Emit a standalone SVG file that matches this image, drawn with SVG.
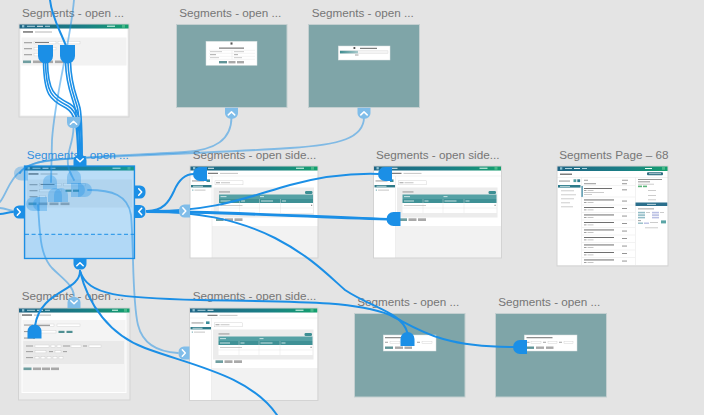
<svg xmlns="http://www.w3.org/2000/svg" width="704" height="415" viewBox="0 0 704 415">
<defs>
  <linearGradient id="hdr" x1="0" y1="0" x2="1" y2="0">
    <stop offset="0" stop-color="#1f6585"/>
    <stop offset="0.6" stop-color="#1a7f86"/>
    <stop offset="1" stop-color="#13a06d"/>
  </linearGradient>
  <linearGradient id="prog" x1="0" y1="0" x2="1" y2="0">
    <stop offset="0" stop-color="#3e8c90"/>
    <stop offset="1" stop-color="#a9cacc"/>
  </linearGradient>
  <style>
    .lbl{font-family:"Liberation Sans",Arial,Helvetica,sans-serif;font-size:11.7px;fill:#767676}
    .sel{fill:#3390df}
    .ab{fill:none;stroke:#d3d3d3;stroke-width:1}
    .teal{fill:#7fa5a8;stroke:#c4cfd0;stroke-width:1}
    .dlg{fill:#fff;stroke:#d8e0e0;stroke-width:.5}
    .w{fill:none;stroke:#1b8fe6;stroke-width:2;stroke-linecap:round}
    .wb{fill:none;stroke:#1b8fe6;stroke-width:1.6;stroke-linecap:round}
    .wl{fill:none;stroke:#1b8fe6;stroke-opacity:.5;stroke-width:1.8;stroke-linecap:round}
    .hd{fill:#1b8fe6}
    .hl{fill:#80bde9}
    .chev{fill:none;stroke:#fff;stroke-width:1.5;stroke-linecap:round;stroke-linejoin:round}
    .mk{fill:#1b8fe6}
    .mkl{fill:#1b8fe6;fill-opacity:.32}
    .tx{fill:#8a8a8a}
    .tl{fill:#b7b7b7}
    .td{fill:#5f5f5f}
    .in{fill:#fff;stroke:#cccccc;stroke-width:.4}
    .bt{fill:#a9a9a9}
    .bp{fill:#6f9ea0}
    .gl{stroke:#e0e0e0;stroke-width:.4}
  </style>

  <!-- interaction handle tab, attached at y=0, pointing down -->
  <path id="tab" d="M-6.5,0 H6.5 V5.5 A5.5,5.5 0 0 1 1,11 H-1 A5.5,5.5 0 0 1 -6.5,5.5 Z"/>
  <path id="cu" d="M-3.2,7.2 L0,4.2 L3.2,7.2"/>
  <path id="cv" d="M-3.2,4.2 L0,7.2 L3.2,4.2"/>
  <!-- link target marker, round side up -->
  <path id="mkT" d="M-7,0 A7,7 0 0 1 7,0 V7 H-7 Z"/>

  <!-- form page thumbnail, 110 x 93 -->
  <g id="fp">
    <rect width="110" height="93" fill="#ededed"/>
    <rect x="1.5" y="4.5" width="107" height="87" fill="#fff"/>
    <rect width="110" height="4.5" fill="url(#hdr)"/>
    <rect x="3" y="1.1" width="2.3" height="2.3" fill="#8fc3d3"/>
    <rect x="8" y="1.8" width="8" height=".9" fill="#bfe0e8"/>
    <rect x="18" y="1.8" width="6" height=".9" fill="#fff"/>
    <rect x="26" y="1.8" width="5" height=".9" fill="#bfe0e8"/>
    <rect x="88" y="1.7" width="8" height="1" fill="#e8fff3"/>
    <rect x="103" y=".9" width="3" height="2.8" fill="#49b98a"/>
    <rect x="4" y="7.3" width="10" height="1.3" class="td"/>
    <rect x="16" y="7.5" width="17" height="1" class="tl"/>
    <rect x="2.5" y="13.5" width="105" height="28" fill="#f2f2f2"/>
    <rect x="5" y="18.3" width="8" height=".9" class="tx"/>
    <rect x="5" y="24.3" width="8" height=".9" class="tx"/>
    <rect x="5" y="30.3" width="8" height=".9" class="tx"/>
    <rect x="15" y="17.3" width="22" height="2.6" class="in"/>
    <rect x="16" y="18.2" width="14" height=".8" class="td"/>
    <rect x="39" y="17.3" width="22" height="2.6" class="in"/>
    <rect x="15" y="23.3" width="22" height="2.6" class="in"/>
    <rect x="41" y="23.6" width="6" height="2.2" fill="#4f8f92"/>
    <rect x="48.5" y="23.6" width="6" height="2.2" fill="#4f8f92"/>
    <rect x="15" y="29.3" width="6" height="2.6" class="in"/>
    <rect x="4" y="36.5" width="8" height="2.6" class="bp"/>
    <rect x="14" y="36.5" width="9" height="2.6" class="bt"/>
    <rect x="25" y="36.5" width="9" height="2.6" class="bt"/>
    <rect x="36" y="36.5" width="9" height="2.6" class="bt"/>
  </g>

  <!-- list page with side panel thumbnail, 128 x 92 -->
  <g id="sp">
    <rect width="128" height="92" fill="#f2f2f2"/>
    <rect y="4.5" width="128" height="55.5" fill="#fff"/>
    <rect y="4.5" width="22" height="87.5" fill="#fff"/>
    <line x1="22" y1="10" x2="22" y2="92" stroke="#e2e2e2" stroke-width=".5"/>
    <rect width="128" height="4.5" fill="url(#hdr)"/>
    <rect x="3" y="1.1" width="2.3" height="2.3" fill="#8fc3d3"/>
    <rect x="8" y="1.8" width="8" height=".9" fill="#bfe0e8"/>
    <rect x="18" y="1.8" width="6" height=".9" fill="#fff"/>
    <rect x="106" y="1.7" width="8" height="1" fill="#e8fff3"/>
    <rect x="121" y=".9" width="3" height="2.8" fill="#49b98a"/>
    <rect x="18" y="6.8" width="10" height="1" class="td"/>
    <rect x="30" y="6.9" width="18" height=".8" class="tl"/>
    <line x1="0" y1="10" x2="128" y2="10" stroke="#e6e6e6" stroke-width=".5"/>
    <rect x="2" y="14.5" width="12" height=".9" class="tx"/>
    <rect x="16.5" y="13.4" width="3.5" height="2.6" fill="#3e8d9a"/>
    <rect x="1" y="19" width="20.5" height="2.4" fill="#2f7a88"/>
    <rect x="3" y="19.8" width="10" height=".8" fill="#e6f2f2"/>
    <rect x="2.3" y="23.6" width="1" height="1" fill="#3e8d9a"/>
    <rect x="4.5" y="23.7" width="11" height=".8" class="tl"/>
    <rect x="25" y="14.8" width="28" height="4" class="in"/>
    <rect x="26" y="16.4" width="4" height=".8" class="tx"/>
    <rect x="31" y="16.4" width="9" height=".8" class="tl"/>
    <rect x="23.5" y="21.5" width="100.5" height="30" fill="#ececec"/>
    <rect x="29" y="25.5" width="11" height=".9" class="tx"/>
    <rect x="115" y="25" width="7.5" height="3" rx="1.2" fill="#3d8f94"/>
    <rect x="29" y="28.5" width="94" height="4.5" fill="#55a1a5"/>
    <rect x="29" y="33" width="94" height="4" fill="#3f9196"/>
    <rect x="30.5" y="30.3" width="6" height=".8" fill="#eaf5f5"/>
    <rect x="70" y="30.3" width="4" height=".8" fill="#eaf5f5"/>
    <rect x="30.5" y="34.6" width="10" height=".8" fill="#eaf5f5"/>
    <rect x="51" y="34.6" width="4" height=".8" fill="#eaf5f5"/>
    <rect x="71" y="34.6" width="12" height=".8" fill="#eaf5f5"/>
    <rect x="92" y="34.6" width="4" height=".8" fill="#eaf5f5"/>
    <rect x="29" y="37" width="94" height="10" fill="#fff"/>
    <line x1="29" y1="42" x2="123" y2="42" class="gl"/>
    <line x1="49.5" y1="33" x2="49.5" y2="47" class="gl"/>
    <line x1="69.5" y1="33" x2="69.5" y2="47" class="gl"/>
    <line x1="90.5" y1="33" x2="90.5" y2="47" class="gl"/>
    <rect x="30.5" y="39" width="22" height=".7" class="tl"/>
    <rect x="121" y="38.7" width="1.2" height="1.2" class="tx"/>
    <rect x="26" y="52.3" width="7.5" height="2.7" class="bp"/>
    <rect x="35" y="52.3" width="8" height="2.7" class="bt"/>
    <rect x="44.5" y="52.3" width="8" height="2.7" class="bt"/>
  </g>
</defs>

<!-- canvas -->
<rect width="704" height="415" fill="#e4e4e4"/>

<!-- artboards -->
<g id="ab-form-1">
  <use href="#fp" x="19" y="24"/>
  <rect x="19" y="24" width="110" height="93" class="ab"/>
  <text x="22" y="16.6" class="lbl">Segments - open ...</text>
</g>

<g id="ab-delete-dialog">
  <rect x="176.5" y="24.5" width="110.5" height="83" class="teal"/>
  <rect x="206" y="41.3" width="51" height="24" class="dlg"/>
  <rect x="230.5" y="42.4" width="2" height="2.2" fill="#555"/>
  <rect x="219" y="47.6" width="25" height="1" class="td"/>
  <line x1="209" y1="50.3" x2="255" y2="50.3" class="gl"/>
  <line x1="209" y1="53.3" x2="255" y2="53.3" class="gl"/>
  <line x1="209" y1="56.3" x2="255" y2="56.3" class="gl"/>
  <line x1="209" y1="59.3" x2="255" y2="59.3" class="gl"/>
  <line x1="232" y1="50.3" x2="232" y2="59.3" class="gl"/>
  <rect x="210" y="51.4" width="12" height=".7" class="tl"/>
  <rect x="234" y="51.4" width="10" height=".7" class="tl"/>
  <rect x="210" y="54.4" width="6" height=".7" class="tx"/>
  <rect x="234" y="54.4" width="4" height=".7" class="tx"/>
  <rect x="210" y="57.4" width="9" height=".7" class="tl"/>
  <rect x="234" y="57.4" width="8" height=".7" class="tl"/>
  <rect x="219" y="61" width="8" height="2.4" fill="#5f9497"/>
  <rect x="228.5" y="61" width="7" height="2.4" class="bt"/>
  <rect x="237" y="61" width="7" height="2.4" class="bt"/>
  <text x="179.3" y="16.6" class="lbl">Segments - open ...</text>
</g>

<g id="ab-export-dialog">
  <rect x="308.5" y="24.5" width="111" height="83" class="teal"/>
  <rect x="338.3" y="46" width="51.7" height="14" class="dlg"/>
  <rect x="353.5" y="47" width="1.8" height="2" fill="#555"/>
  <rect x="360" y="47.8" width="17" height="1" class="td"/>
  <rect x="340" y="50.8" width="48" height="2.6" fill="#f4f4f4" stroke="#d6d6d6" stroke-width=".4"/>
  <rect x="340" y="50.8" width="18" height="2.6" fill="url(#prog)"/>
  <rect x="355" y="54.6" width="3.5" height=".8" class="tx"/>
  <text x="311.7" y="16.6" class="lbl">Segments - open ...</text>
</g>

<g id="ab-form-selected">
  <use href="#fp" x="24.5" y="166"/>
  <rect x="24.5" y="166" width="110" height="92.5" fill="#1b8fe6" fill-opacity=".3"/>
  <rect x="24.5" y="234.5" width="110" height="24" fill="#1b8fe6" fill-opacity=".05"/>
  <line x1="25" y1="234.3" x2="134" y2="234.3" stroke="#1b8fe6" stroke-width="1" stroke-dasharray="4 2.6"/>
  <rect x="24.5" y="166" width="110" height="92.5" fill="none" stroke="#1b8fe6" stroke-width="1.3"/>
  <text x="26.7" y="158.8" class="lbl sel">Segments - open ...</text>
</g>

<g id="ab-side-1">
  <use href="#sp" x="190" y="166"/>
  <rect x="190" y="166" width="128" height="92" class="ab"/>
  <text x="192.7" y="159.2" class="lbl">Segments - open side...</text>
</g>

<g id="ab-side-2">
  <use href="#sp" x="373.5" y="166"/>
  <rect x="373.5" y="166" width="128" height="92" class="ab"/>
  <text x="376" y="159.2" class="lbl">Segments - open side...</text>
</g>

<g id="ab-segments-page">
  <rect x="557" y="166" width="111" height="100" fill="#efefef"/>
  <rect x="557" y="171" width="111" height="94" fill="#fff"/>
  <rect x="557" y="166" width="111" height="5" fill="url(#hdr)"/>
  <rect x="560" y="167.3" width="2.3" height="2.3" fill="#8fc3d3"/>
  <rect x="565" y="168" width="7" height=".9" fill="#bfe0e8"/>
  <rect x="574" y="168" width="6" height=".9" fill="#fff"/>
  <rect x="582" y="168" width="5" height=".9" fill="#bfe0e8"/>
  <rect x="645" y="168" width="7" height="1" fill="#e8fff3"/>
  <rect x="662" y="167" width="3" height="2.8" fill="#49b98a"/>
  <rect x="560" y="173.6" width="12" height="1.2" class="td"/>
  <rect x="647" y="172.3" width="16" height="3" rx="1" fill="#2e6e80"/>
  <rect x="649" y="173.4" width="12" height=".7" fill="#dbeef2"/>
  <line x1="557" y1="177.5" x2="668" y2="177.5" stroke="#e4e4e4" stroke-width=".5"/>
  <line x1="581.5" y1="177.5" x2="581.5" y2="265" stroke="#e4e4e4" stroke-width=".5"/>
  <line x1="635.5" y1="177.5" x2="635.5" y2="265" stroke="#e4e4e4" stroke-width=".5"/>
  <!-- sidebar -->
  <rect x="559" y="180.6" width="11" height=".9" class="tx"/>
  <rect x="573.5" y="179.3" width="2.8" height="2.8" fill="#4f9da0"/>
  <rect x="577.3" y="179.3" width="2.8" height="2.8" fill="#2e7a8e"/>
  <rect x="558" y="185" width="22.5" height="2.6" fill="#2b7a8a"/>
  <rect x="560" y="185.9" width="10" height=".8" fill="#e6f2f2"/>
  <rect x="561" y="190.5" width="13" height=".7" class="tl"/>
  <rect x="561" y="194.5" width="15" height=".7" class="tl"/>
  <rect x="561" y="198.5" width="13" height=".7" class="tl"/>
  <rect x="561" y="202.5" width="9" height=".7" class="tl"/>
  <rect x="561" y="206.5" width="12" height=".7" class="tl"/>
  <!-- list -->
  <rect x="584" y="179.8" width="4" height=".8" class="tx"/>
  <rect x="622" y="179.8" width="6" height=".8" class="tx"/>
  <rect x="581.5" y="186" width="1.2" height="11" fill="#2d7f9a"/>
  <g class="rows">
    <rect x="584" y="183.3" width="12" height=".9" class="tx"/>
    <rect x="622" y="183.3" width="5" height=".9" class="tx"/>
    <line x1="582" y1="185.5" x2="635" y2="185.5" class="gl"/>
    <rect x="584" y="188" width="28" height=".9" class="td"/>
    <rect x="584" y="190.2" width="2.5" height=".8" class="tx"/>
    <rect x="587.5" y="190.2" width="6" height=".8" class="tl"/>
    <rect x="584" y="192.2" width="20" height=".7" class="tl"/>
    <rect x="584" y="194.2" width="8" height=".7" class="tl"/>
    <rect x="622" y="189.4" width="5" height=".9" class="tx"/>
    <line x1="582" y1="197" x2="635" y2="197" class="gl"/>
  </g>
  <g class="rows">
    <rect x="584" y="199.5" width="30" height=".9" class="td"/>
    <rect x="584" y="202" width="2.5" height=".8" class="tx"/>
    <rect x="587.5" y="202" width="6" height=".8" class="tl"/>
    <rect x="622" y="200.6" width="5" height=".9" class="tx"/>
    <line x1="582" y1="205" x2="635" y2="205" class="gl"/>
    <rect x="584" y="207" width="30" height=".9" class="td"/>
    <rect x="584" y="209.5" width="2.5" height=".8" class="tx"/>
    <rect x="587.5" y="209.5" width="6" height=".8" class="tl"/>
    <rect x="622" y="208.1" width="5" height=".9" class="tx"/>
    <line x1="582" y1="212.5" x2="635" y2="212.5" class="gl"/>
    <rect x="584" y="214.5" width="30" height=".9" class="td"/>
    <rect x="584" y="217" width="2.5" height=".8" class="tx"/>
    <rect x="587.5" y="217" width="6" height=".8" class="tl"/>
    <rect x="622" y="215.6" width="5" height=".9" class="tx"/>
    <line x1="582" y1="220" x2="635" y2="220" class="gl"/>
    <rect x="584" y="222" width="30" height=".9" class="td"/>
    <rect x="584" y="224.5" width="2.5" height=".8" class="tx"/>
    <rect x="587.5" y="224.5" width="6" height=".8" class="tl"/>
    <rect x="622" y="223.1" width="5" height=".9" class="tx"/>
    <line x1="582" y1="227.5" x2="635" y2="227.5" class="gl"/>
    <rect x="584" y="229.5" width="30" height=".9" class="td"/>
    <rect x="584" y="232" width="2.5" height=".8" class="tx"/>
    <rect x="587.5" y="232" width="6" height=".8" class="tl"/>
    <rect x="622" y="230.6" width="5" height=".9" class="tx"/>
    <line x1="582" y1="235" x2="635" y2="235" class="gl"/>
    <rect x="584" y="237" width="30" height=".9" class="td"/>
    <rect x="584" y="239.5" width="2.5" height=".8" class="tx"/>
    <rect x="587.5" y="239.5" width="6" height=".8" class="tl"/>
    <rect x="622" y="238.1" width="5" height=".9" class="tx"/>
    <line x1="582" y1="242.5" x2="635" y2="242.5" class="gl"/>
    <rect x="584" y="244.5" width="30" height=".9" class="td"/>
    <rect x="584" y="247" width="2.5" height=".8" class="tx"/>
    <rect x="587.5" y="247" width="6" height=".8" class="tl"/>
    <rect x="622" y="245.6" width="5" height=".9" class="tx"/>
    <line x1="582" y1="250" x2="635" y2="250" class="gl"/>
    <rect x="584" y="252" width="30" height=".9" class="td"/>
    <rect x="584" y="254.5" width="2.5" height=".8" class="tx"/>
    <rect x="587.5" y="254.5" width="6" height=".8" class="tl"/>
    <rect x="622" y="253.1" width="5" height=".9" class="tx"/>
    <line x1="582" y1="257.5" x2="635" y2="257.5" class="gl"/>
    <rect x="584" y="259.5" width="30" height=".9" class="td"/>
    <rect x="584" y="262" width="2.5" height=".8" class="tx"/>
    <rect x="587.5" y="262" width="6" height=".8" class="tl"/>
    <rect x="622" y="260.6" width="5" height=".9" class="tx"/>
  </g>
  <!-- detail panel -->
  <rect x="638" y="179" width="24" height=".9" class="tx"/>
  <rect x="638" y="181.4" width="12" height=".9" class="tx"/>
  <rect x="638" y="183.8" width="16" height=".7" class="tl"/>
  <rect x="638" y="185.6" width="4" height="1.6" fill="#5bb47a"/>
  <rect x="643" y="185.6" width="4" height="1.6" fill="#5bb47a"/>
  <rect x="648" y="190" width="8" height=".7" class="tl"/>
  <rect x="648" y="195" width="8" height=".7" class="tl"/>
  <rect x="648" y="199.5" width="8" height=".7" class="tl"/>
  <rect x="635.5" y="202.5" width="32" height="3.5" fill="#2b6f8c"/>
  <rect x="647" y="203.9" width="9" height=".8" fill="#e1eef3"/>
  <rect x="638" y="208.5" width="16" height=".8" class="tx"/>
  <rect x="638" y="211.8" width="7" height="1.6" fill="#93bdc7"/>
  <rect x="652" y="211.8" width="7" height="1.6" fill="#b9bfe3"/>
  <rect x="638" y="214.3" width="7" height="1.6" fill="#93bdc7"/>
  <rect x="652" y="214.3" width="7" height="1.6" fill="#b9bfe3"/>
  <rect x="638" y="216.8" width="7" height="1.6" fill="#93bdc7"/>
  <rect x="652" y="216.8" width="7" height="1.6" fill="#b9bfe3"/>
  <rect x="646" y="212" width="4" height=".7" class="tl"/>
  <rect x="660" y="212" width="4" height=".7" class="tl"/>
  <rect x="638" y="220.3" width="3" height=".8" class="tx"/>
  <rect x="638" y="222.5" width="5" height="1.4" fill="#93bdc7"/>
  <rect x="644" y="222.5" width="5" height="1.4" fill="#b9bfe3"/>
  <rect x="650" y="222.3" width="8" height=".7" class="tl"/>
  <rect x="661" y="220.4" width="5" height="3" fill="#5aa5a6"/>
  <rect x="645" y="227.5" width="13" height=".7" class="tl"/>
  <rect x="557" y="166" width="111" height="100" class="ab"/>
  <text x="559.3" y="158.8" class="lbl">Segments Page – 68</text>
</g>

<g id="ab-form-2">
  <rect x="18.5" y="308" width="111.5" height="92" fill="#ededed"/>
  <rect x="21.5" y="313" width="105" height="80" fill="#fff"/>
  <rect x="18.5" y="308" width="111.5" height="4.5" fill="url(#hdr)"/>
  <rect x="22" y="309.2" width="2.3" height="2.3" fill="#8fc3d3"/>
  <rect x="27" y="309.8" width="8" height=".9" fill="#bfe0e8"/>
  <rect x="37" y="309.8" width="6" height=".9" fill="#fff"/>
  <rect x="45" y="309.8" width="5" height=".9" fill="#bfe0e8"/>
  <rect x="112" y="309.7" width="6" height="1" fill="#e8fff3"/>
  <rect x="124" y="308.9" width="3" height="2.8" fill="#49b98a"/>
  <rect x="22" y="314.4" width="10" height="1.3" class="td"/>
  <rect x="34" y="314.6" width="17" height="1" class="tl"/>
  <rect x="22.5" y="320" width="103" height="72" fill="#f4f4f4"/>
  <rect x="24" y="324.6" width="9" height=".9" class="tx"/>
  <rect x="35" y="324" width="19" height="2.4" class="in"/>
  <rect x="36" y="324.8" width="14" height=".8" class="td"/>
  <rect x="57" y="324" width="23" height="2.4" class="in"/>
  <rect x="24" y="331.2" width="9" height=".9" class="tx"/>
  <rect x="35" y="330.6" width="21" height="2.4" class="in"/>
  <rect x="58.5" y="330.8" width="6" height="2.2" fill="#4f8f92"/>
  <rect x="66.5" y="330.8" width="6" height="2.2" fill="#4f8f92"/>
  <rect x="24" y="337.6" width="9" height=".9" class="tx"/>
  <rect x="33" y="337.3" width="2" height="1.5" class="tx"/>
  <rect x="23.3" y="341" width="100.7" height="23" fill="#e9e9e9"/>
  <rect x="26" y="345.6" width="7" height=".8" class="tx"/>
  <rect x="35" y="345" width="14" height="2.2" class="in"/>
  <rect x="51" y="345" width="4" height="2.2" class="in"/>
  <rect x="57" y="345" width="4" height="2.2" class="in"/>
  <rect x="63" y="345.6" width="7" height=".8" class="tx"/>
  <rect x="71" y="345" width="10" height="2.2" class="in"/>
  <rect x="83" y="345.6" width="4" height=".8" class="tx"/>
  <rect x="89" y="345" width="12" height="2.2" class="in"/>
  <rect x="26" y="351.3" width="7" height=".8" class="tx"/>
  <rect x="35" y="350.7" width="11" height="2.2" class="in"/>
  <rect x="49" y="351.3" width="4" height=".8" class="tx"/>
  <rect x="55" y="350.7" width="6" height="2.2" class="in"/>
  <rect x="63" y="351.3" width="4" height=".8" class="tx"/>
  <rect x="26" y="357.3" width="7" height=".8" class="tx"/>
  <rect x="35" y="356.7" width="4" height="2.2" class="in"/>
  <rect x="41" y="356.7" width="4" height="2.2" class="in"/>
  <rect x="47" y="356.7" width="4" height="2.2" class="in"/>
  <rect x="53" y="356.7" width="4" height="2.2" class="in"/>
  <rect x="59" y="356.7" width="4" height="2.2" class="in"/>
  <rect x="23.5" y="367.5" width="8" height="2.6" class="bp"/>
  <rect x="33" y="367.5" width="8" height="2.6" class="bt"/>
  <rect x="42" y="367.5" width="8" height="2.6" class="bt"/>
  <rect x="51" y="367.5" width="8" height="2.6" class="bt"/>
  <rect x="18.5" y="308" width="111.5" height="92" class="ab"/>
  <text x="21.7" y="299.8" class="lbl">Segments - open ...</text>
</g>

<g id="ab-side-3">
  <use href="#sp" x="189.5" y="308"/>
  <rect x="189.5" y="308" width="128.5" height="92.5" class="ab"/>
  <text x="192.7" y="299.6" class="lbl">Segments - open side...</text>
</g>

<g id="ab-dialog-3">
  <rect x="354.5" y="313.5" width="110.5" height="83.5" class="teal"/>
  <rect x="383.3" y="335" width="52.7" height="16" class="dlg"/>
  <rect x="385" y="337.3" width="22" height=".9" class="td"/>
  <rect x="385" y="341.8" width="3" height=".8" class="tx"/>
  <rect x="390" y="341.2" width="10" height="2.1" class="in"/>
  <rect x="402" y="341.8" width="4" height=".8" class="tx"/>
  <rect x="408" y="341.2" width="6" height="2.1" class="in"/>
  <rect x="417" y="341.8" width="3" height=".8" class="tx"/>
  <rect x="422" y="341.2" width="10" height="2.1" class="in"/>
  <rect x="385" y="346.5" width="8" height="2.4" fill="#5f9497"/>
  <rect x="395" y="346.5" width="8" height="2.4" class="bt"/>
  <rect x="404.5" y="346.5" width="7.5" height="2.4" class="bt"/>
  <text x="357.3" y="305.6" class="lbl">Segments - open ...</text>
</g>

<g id="ab-dialog-4">
  <rect x="495.5" y="313.5" width="111" height="83.5" class="teal"/>
  <rect x="524.3" y="335" width="52.7" height="16" class="dlg"/>
  <rect x="526.5" y="337.3" width="26" height=".9" class="td"/>
  <rect x="526.5" y="341.8" width="3" height=".8" class="tx"/>
  <rect x="531" y="341.2" width="10" height="2.1" class="in"/>
  <rect x="543" y="341.8" width="3" height=".8" class="tx"/>
  <rect x="548" y="341.2" width="9" height="2.1" class="in"/>
  <rect x="559" y="341.8" width="3" height=".8" class="tx"/>
  <rect x="564" y="341.2" width="9" height="2.1" class="in"/>
  <rect x="526.5" y="346.5" width="7.5" height="2.4" fill="#5f9497"/>
  <rect x="536" y="346.5" width="8" height="2.4" class="bt"/>
  <rect x="546" y="346.5" width="7.5" height="2.4" class="bt"/>
  <text x="498.3" y="305.6" class="lbl">Segments - open ...</text>
</g>

<!-- connectors -->
<g id="connectors">
  <!-- secondary (dimmed) links -->
  <path class="wl" d="M74,0 C70,45 55,95 52,140 L51,182"/>
  <path class="wl" d="M73.5,128 C73,145 66,152 68,165 C69,172 72,176 74,180"/>
  <path class="wl" d="M231.5,117 C231.5,140 215,150 185,152 C140,155 60,157 36,163 C26,166 21,169 20,173"/>
  <path class="wl" d="M364,117 C364,138 340,145 290,148 C230,152 120,156 60,159 C36,161 24,167 20,173"/>
  <path class="wl" d="M20,172 C10,178 6,195 0,202"/>
  <path class="wl" d="M0,208 C5,208 8,210 13,211"/>
  <path class="wl" d="M88,190 C112,190 128,195 131,215 C134,250 132,300 138,325 C143,345 160,352 178,353"/>
  <path class="wl" d="M38,205 C40,235 40,255 52,268 C64,280 73,285 74,296"/>
  <path class="wl" d="M147,211 C160,211 172,211 178,211"/>

  <!-- primary links -->
  <path class="w" d="M50,0 C52,18 60,30 66,46"/>
  <path class="wb" d="M43.5,62 C44,95 50,100 66,108 C76,114 77,125 78,156"/>
  <path class="wb" d="M45.5,62 C46,93 52,98 68,106 C78,112 79.5,124 80,156"/>
  <path class="wb" d="M47.5,62 C48,91 54,96 70,104 C80,110 81.5,124 82,156"/>
  <path class="wb" d="M65.5,62 C66,86 72,96 75,108 C77,118 78,130 78.5,156"/>
  <path class="wb" d="M68,62 C68.5,86 74.5,96 77.5,108 C79.5,118 80,130 80.5,156"/>
  <path class="wb" d="M70.5,62 C71,86 77,96 80,108 C82,118 82,130 82,156"/>
  <path class="w" d="M80,271 C80,292 40,290 35,326"/>
  <path class="w" d="M80,271 C88,296 120,298 200,300 C290,302 350,300 390,315 C420,330 440,347 513,347"/>
  <path class="w" d="M80,271 C88,305 110,335 145,348 C190,365 250,375 277,415"/>
  <path class="w" d="M0,214 C5,214 8,212 13,212"/>
  <path class="w" d="M147,211 C220,211 300,216 388,219"/>
  <path class="w" d="M147,212 C220,212 300,217 388,219.5"/>
  <path class="w" d="M147,211 C215,212 250,196 290,185 C320,177 350,173 379,174"/>
  <path class="w" d="M147,211 C163,211 169,202 174,191 C179,179 185,174 194,174"/>
  <path class="w" d="M147,211 C195,212 235,218 275,238 C310,256 328,275 345,290 C372,308 402,312 407.5,333"/>
</g>

<!-- link targets -->
<g id="targets">
  <use href="#mkT" class="mkl" transform="translate(21,173.5) rotate(-90)"/>
  <use href="#mkT" class="mkl" transform="translate(50,182)"/>
  <use href="#mkT" class="mkl" transform="translate(74,177)"/>
  <use href="#mkT" class="mkl" transform="translate(55,195)"/>
  <use href="#mkT" class="mkl" transform="translate(61,195)"/>
  <use href="#mkT" class="mkl" transform="translate(78,190) rotate(90)"/>
  <use href="#mkT" class="mkl" transform="translate(85,190) rotate(90)"/>
  <use href="#mkT" class="mkl" transform="translate(33,204) rotate(-90)"/>
  <use href="#mkT" class="mkl" transform="translate(40,204) rotate(-90)"/>
  <path class="mk" d="M38,45 H53 V56 A7.5,7.5 0 0 1 38,56 Z"/>
  <path class="mk" d="M60,45 H75 V56 A7.5,7.5 0 0 1 60,56 Z"/>
  <use href="#mkT" class="mk" transform="translate(200,174) rotate(-90)"/>
  <use href="#mkT" class="mk" transform="translate(385,174) rotate(-90)"/>
  <use href="#mkT" class="mk" transform="translate(393.5,219) rotate(-90)"/>
  <use href="#mkT" class="mk" transform="translate(34.5,331.5)"/>
  <use href="#mkT" class="mk" transform="translate(407.5,339)"/>
  <use href="#mkT" class="mk" transform="translate(520,347) rotate(-90)"/>
</g>

<!-- interaction handles -->
<g id="handles">
  <g transform="translate(73.5,117)"><use href="#tab" class="hl"/><use href="#cu" class="chev"/></g>
  <g transform="translate(231.5,107.7)"><use href="#tab" class="hl"/><use href="#cu" class="chev"/></g>
  <g transform="translate(364,107.7)"><use href="#tab" class="hl"/><use href="#cu" class="chev"/></g>
  <g transform="translate(80,166) rotate(180)"><use href="#tab" class="hd"/><use href="#cu" class="chev"/></g>
  <g transform="translate(80,258.5)"><use href="#tab" class="hd"/><use href="#cu" class="chev"/></g>
  <g transform="translate(134.5,192) rotate(-90)"><use href="#tab" class="hd"/><use href="#cv" class="chev"/></g>
  <g transform="translate(134.5,211.5) rotate(-90)"><use href="#tab" class="hd"/><use href="#cu" class="chev"/></g>
  <g transform="translate(24.5,212) rotate(90)"><use href="#tab" class="hd"/><use href="#cu" class="chev"/></g>
  <g transform="translate(190,211) rotate(90)"><use href="#tab" class="hl"/><use href="#cu" class="chev"/></g>
  <g transform="translate(189.5,353) rotate(90)"><use href="#tab" class="hl"/><use href="#cu" class="chev"/></g>
  <g transform="translate(74,308) rotate(180)"><use href="#tab" class="hl"/><use href="#cu" class="chev"/></g>
</g>
</svg>
